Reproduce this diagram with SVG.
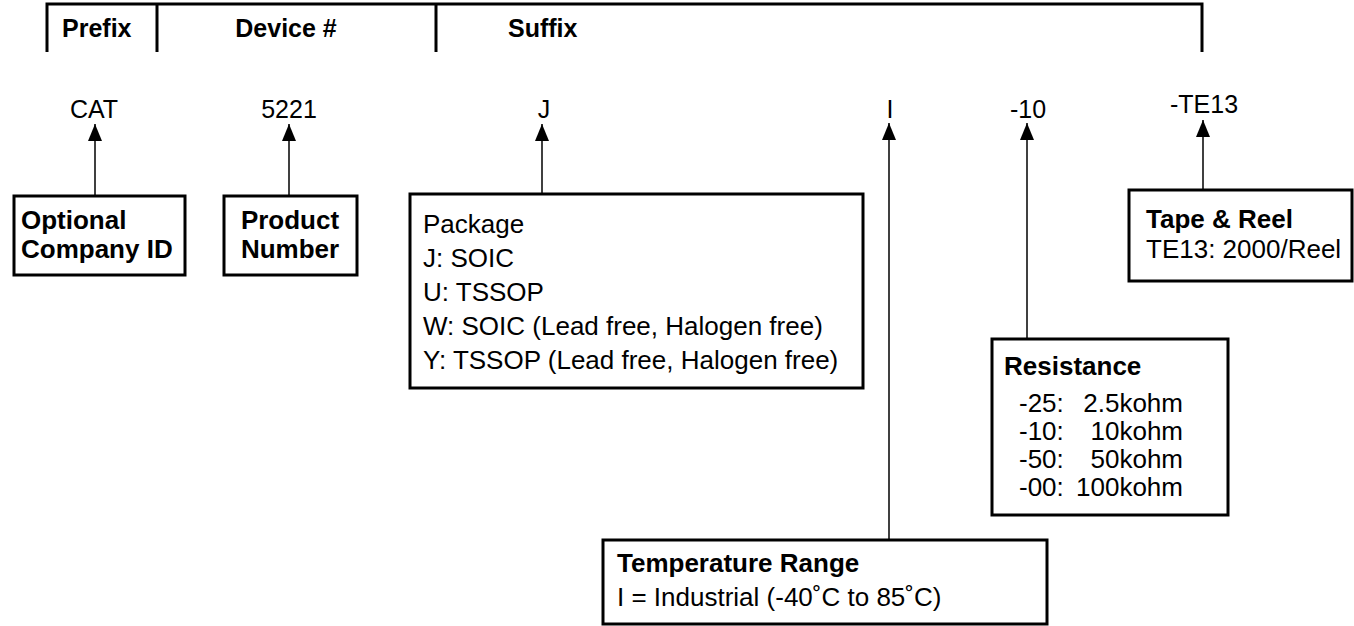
<svg xmlns="http://www.w3.org/2000/svg" width="1354" height="626" viewBox="0 0 1354 626">
<style>
text{font-family:"Liberation Sans",Arial,sans-serif;fill:#000}
.h{font-size:25px;font-weight:bold}
.c{font-size:25px;text-anchor:middle}
.b{font-size:26px;font-weight:bold}
.r{font-size:26px}
.box{fill:#fff;stroke:#000;stroke-width:3}
.ln{stroke:#000;stroke-width:1.5;fill:none;marker-end:url(#arr)}
.br{stroke:#000;stroke-width:3;fill:none}
</style>
<defs>
<marker id="arr" viewBox="0 0 17 14" markerWidth="17" markerHeight="14" refX="17" refY="7" orient="auto" markerUnits="userSpaceOnUse">
<path d="M0,0 L17,7 L0,14 Z" fill="#000"/>
</marker>
</defs>
<rect width="1354" height="626" fill="#fff"/>
<g id="header">
<path class="br" d="M47,52 V4 H1202 V52 M157,4 V52 M436,4 V52"/>
<text class="h" x="62" y="37">Prefix</text>
<text class="h" x="286" y="37" text-anchor="middle">Device #</text>
<text class="h" x="508" y="37">Suffix</text>
</g>
<g id="codes">
<text class="c" x="94" y="118">CAT</text>
<text class="c" x="289" y="118">5221</text>
<text class="c" x="544" y="118">J</text>
<text class="c" x="890" y="118">I</text>
<text class="c" x="1028" y="118">-10</text>
<text class="c" x="1204" y="113">-TE13</text>
</g>
<g id="connectors">
<line class="ln" x1="95" y1="195" x2="95" y2="124"/>
<line class="ln" x1="289" y1="195" x2="289" y2="124"/>
<line class="ln" x1="542" y1="193" x2="542" y2="124"/>
<line class="ln" x1="889" y1="540" x2="889" y2="123"/>
<line class="ln" x1="1027" y1="339" x2="1027" y2="123"/>
<line class="ln" x1="1203" y1="190" x2="1203" y2="120"/>
</g>
<g id="company">
<rect class="box" x="14" y="196" width="171" height="79"/>
<text class="b" x="21" y="229">Optional</text>
<text class="b" x="21" y="258">Company ID</text>
</g>
<g id="product">
<rect class="box" x="224" y="196" width="133" height="79"/>
<text class="b" x="290" y="229" text-anchor="middle">Product</text>
<text class="b" x="290" y="258" text-anchor="middle">Number</text>
</g>
<g id="package">
<rect class="box" x="410" y="194" width="453" height="194"/>
<text class="r" x="423" y="233">Package</text>
<text class="r" x="423" y="267">J: SOIC</text>
<text class="r" x="423" y="301">U: TSSOP</text>
<text class="r" x="423" y="335">W: SOIC (Lead free, Halogen free)</text>
<text class="r" x="423" y="369">Y: TSSOP (Lead free, Halogen free)</text>
</g>
<g id="tape">
<rect class="box" x="1129" y="190" width="223" height="91"/>
<text class="b" x="1146" y="228">Tape &amp; Reel</text>
<text class="r" x="1146" y="258">TE13: 2000/Reel</text>
</g>
<g id="resistance">
<rect class="box" x="992" y="339" width="236" height="176"/>
<text class="b" x="1004" y="375">Resistance</text>
<text class="r" x="1019" y="412">-25:</text><text class="r" x="1183" y="412" text-anchor="end">2.5kohm</text>
<text class="r" x="1019" y="440">-10:</text><text class="r" x="1183" y="440" text-anchor="end">10kohm</text>
<text class="r" x="1019" y="468">-50:</text><text class="r" x="1183" y="468" text-anchor="end">50kohm</text>
<text class="r" x="1019" y="496">-00:</text><text class="r" x="1183" y="496" text-anchor="end">100kohm</text>
</g>
<g id="temperature">
<rect class="box" x="603" y="540" width="444" height="84"/>
<text class="b" x="617" y="572">Temperature Range</text>
<text class="r" x="617" y="606">I = Industrial (-40˚C to 85˚C)</text>
</g>
</svg>
